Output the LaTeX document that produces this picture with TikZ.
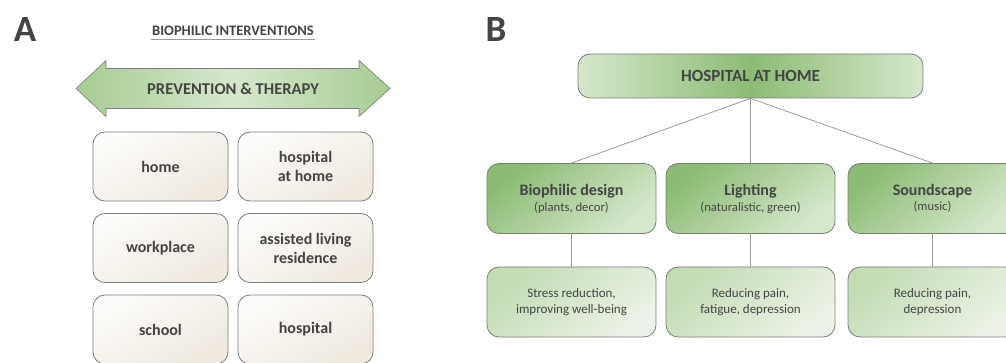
\documentclass[tikz,border=0pt]{standalone}
\usepackage{fontspec}
\setmainfont{Carlito}
\usetikzlibrary{positioning}
\definecolor{txt}{HTML}{444444}
\definecolor{bord}{HTML}{7C7C7C}
\definecolor{conn}{HTML}{9A9A9A}
\definecolor{gdark}{HTML}{8CBC74}
\definecolor{gmid}{HTML}{A6CC92}
\definecolor{glight}{HTML}{D6E8CC}
\definecolor{gpale}{HTML}{EBF3E6}
\definecolor{gsoft}{HTML}{C3DCB4}
\definecolor{creamA}{HTML}{FDFCFA}
\definecolor{creamB}{HTML}{EFE9DF}
\tikzset{
  basebox/.style={draw=bord, line width=0.8pt, rounded corners=12pt, text=txt, align=center, inner sep=0pt},
  placebox/.style={basebox, minimum width=135pt, minimum height=69pt, left color=creamA, right color=creamB, shading angle=30, font=\fontsize{16}{18}\selectfont\bfseries},
  topbox/.style={basebox, minimum width=345pt, minimum height=44pt, left color=glight, right color=glight, middle color=gdark, font=\fontsize{17}{19}\selectfont\bfseries},
  catbox/.style={basebox, minimum width=169pt, minimum height=70pt, left color=gdark, right color=glight, shading angle=40},
  effbox/.style={basebox, minimum width=169pt, minimum height=70pt, left color=gsoft, right color=gpale, shading angle=40, font=\fontsize{13}{15}\selectfont},
  conline/.style={draw=conn, line width=0.8pt},
  paneltag/.style={text=txt, font=\fontsize{37}{40}\selectfont\bfseries, inner sep=0pt}
}
\newcommand{\cattitle}[2]{{\fontsize{16}{18}\selectfont\bfseries #1}\\[3pt]{\fontsize{12.7}{14}\selectfont #2}}
\begin{document}
\begin{tikzpicture}[x=1pt,y=-1pt]
\useasboundingbox (0,0) rectangle (1006,363);
\clip (0,0) rectangle (1006,363);
% Panel A
\node[paneltag] (tagA) at (25,30) {A};
\node[text=txt, font=\fontsize{14.5}{16}\selectfont\bfseries, inner sep=1pt] (titleA) at (233,31) {BIOPHILIC INTERVENTIONS};
\coordinate (ulL) at (151,39.5);
\coordinate (ulR) at (315,39.5);
\draw[conn, line width=0.8pt] (ulL) -- (ulR);
\path[draw=bord, line width=0.6pt, left color=gmid, right color=gmid, middle color=glight]
  (76,88.5) -- (106,60.5) -- (106,68.5) -- (359,68.5) -- (359,60.5) -- (390,88.5)
  -- (359,116.5) -- (359,108.5) -- (106,108.5) -- (106,116.5) -- cycle;
\node[text=txt, font=\fontsize{16.5}{18}\selectfont\bfseries] (arrowtext) at (233,88.5) {PREVENTION \& THERAPY};
\node[placebox] (home) at (160.5,166.5) {home};
\node[placebox] (hah) at (305.5,166.5) {hospital\\[1pt]at home};
\node[placebox] (work) at (160.5,248) {workplace};
\node[placebox] (alr) at (305.5,248) {assisted living\\[1pt]residence};
\node[placebox] (school) at (160.5,329.5) {school};
\node[placebox] (hosp) at (305.5,329.5) {hospital};
% Panel B
\node[paneltag] (tagB) at (496,30) {B};
\node[topbox] (top) at (750.5,76) {HOSPITAL AT HOME};
\node[catbox] (bio) at (571.5,198.5) {\cattitle{Biophilic design}{(plants, decor)}};
\node[catbox] (light) at (750.5,198.5) {\cattitle{Lighting}{(naturalistic, green)}};
\node[catbox] (sound) at (932.5,198.5) {\cattitle{Soundscape}{(music)}};
\node[effbox] (e1) at (571.5,302) {Stress reduction,\\[1pt]improving well-being};
\node[effbox] (e2) at (750.5,302) {Reducing pain,\\[1pt]fatigue, depression};
\node[effbox] (e3) at (932.5,302) {Reducing pain,\\[1pt]depression};
\draw[conline] (top.south) -- (bio.north);
\draw[conline] (top.south) -- (light.north);
\draw[conline] (top.south) -- (sound.north);
\draw[conline] (bio.south) -- (e1.north);
\draw[conline] (light.south) -- (e2.north);
\draw[conline] (sound.south) -- (e3.north);
\end{tikzpicture}
\end{document}
